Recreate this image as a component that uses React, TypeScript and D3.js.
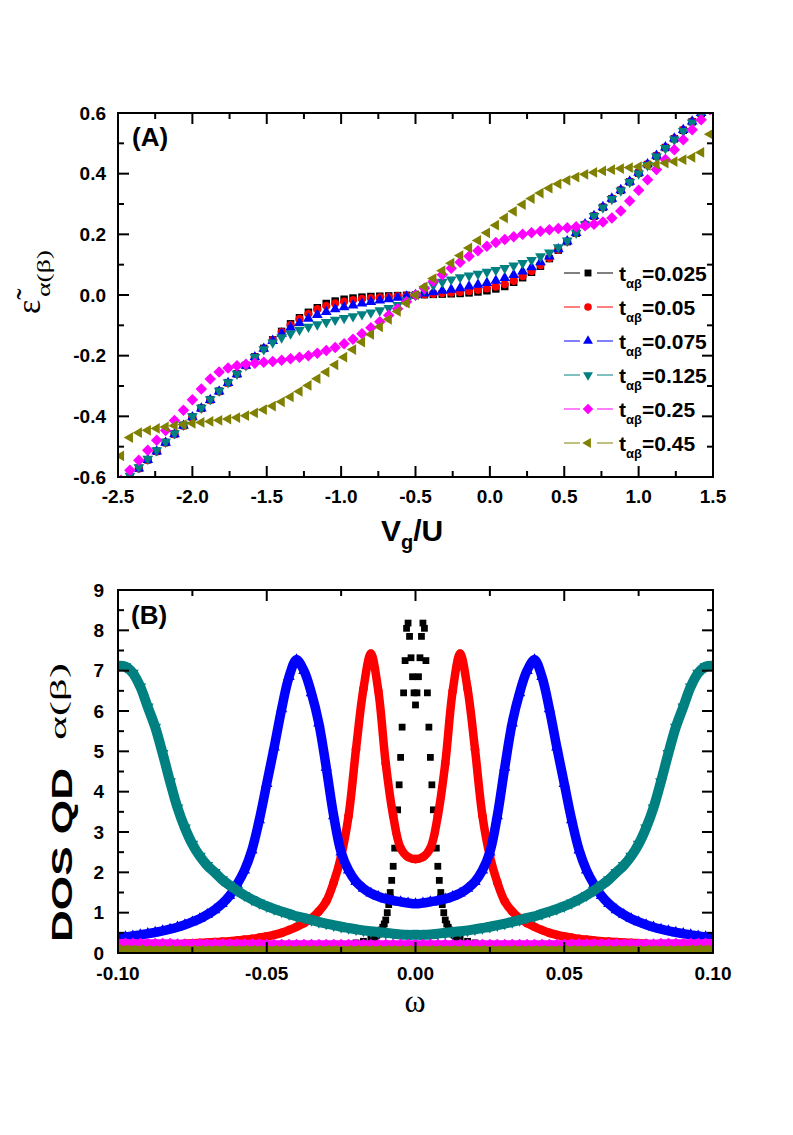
import React, { useEffect, useRef } from 'react';
import * as d3 from 'd3';

// ---- panel A : renormalised level vs gate voltage ----
const vg = [
  -2.48, -2.42, -2.36, -2.30, -2.24, -2.18, -2.12, -2.06, -2.00, -1.94,
  -1.88, -1.82, -1.76, -1.70, -1.64, -1.58, -1.52, -1.46, -1.40, -1.34,
  -1.28, -1.22, -1.16, -1.10, -1.04, -0.98, -0.92, -0.86, -0.80, -0.74,
  -0.68, -0.62, -0.56, -0.50, -0.44, -0.38, -0.32, -0.26, -0.20, -0.14,
  -0.08, -0.02, 0.04, 0.10, 0.16, 0.22, 0.28, 0.34, 0.40, 0.46,
  0.52, 0.58, 0.64, 0.70, 0.76, 0.82, 0.88, 0.94, 1.00, 1.06,
  1.12, 1.18, 1.24, 1.30, 1.36, 1.42, 1.48,
];

const epsT025 = [
  -0.627, -0.599, -0.571, -0.543, -0.515, -0.486, -0.458, -0.430, -0.402, -0.373,
  -0.345, -0.317, -0.289, -0.260, -0.232, -0.204, -0.176, -0.148, -0.120, -0.095,
  -0.075, -0.057, -0.042, -0.028, -0.020, -0.014, -0.010, -0.007, -0.005, -0.004,
  -0.003, -0.002, -0.001, 0, 0.001, 0.002, 0.003, 0.004, 0.005, 0.007,
  0.010, 0.014, 0.020, 0.028, 0.042, 0.057, 0.075, 0.095, 0.120, 0.148,
  0.176, 0.204, 0.232, 0.260, 0.289, 0.317, 0.345, 0.373, 0.402, 0.430,
  0.458, 0.486, 0.515, 0.543, 0.571, 0.599, 0.627,
];
const epsT05 = [
  -0.628, -0.600, -0.572, -0.544, -0.516, -0.487, -0.459, -0.431, -0.403, -0.374,
  -0.346, -0.318, -0.290, -0.261, -0.233, -0.205, -0.177, -0.149, -0.122, -0.099,
  -0.079, -0.062, -0.047, -0.036, -0.028, -0.022, -0.017, -0.013, -0.010, -0.008,
  -0.006, -0.004, -0.002, 0, 0.002, 0.004, 0.006, 0.008, 0.010, 0.013,
  0.017, 0.022, 0.028, 0.036, 0.047, 0.062, 0.079, 0.099, 0.122, 0.149,
  0.177, 0.205, 0.233, 0.261, 0.290, 0.318, 0.346, 0.374, 0.403, 0.431,
  0.459, 0.487, 0.516, 0.544, 0.572, 0.600, 0.628,
];
const epsT075 = [
  -0.628, -0.600, -0.572, -0.544, -0.516, -0.487, -0.459, -0.431, -0.403, -0.374,
  -0.346, -0.318, -0.290, -0.261, -0.233, -0.205, -0.177, -0.151, -0.127, -0.108,
  -0.092, -0.078, -0.066, -0.056, -0.047, -0.040, -0.034, -0.028, -0.023, -0.018,
  -0.014, -0.009, -0.005, 0, 0.005, 0.009, 0.014, 0.018, 0.023, 0.028,
  0.034, 0.040, 0.047, 0.056, 0.066, 0.078, 0.092, 0.108, 0.127, 0.151,
  0.177, 0.205, 0.233, 0.261, 0.290, 0.318, 0.346, 0.374, 0.403, 0.431,
  0.459, 0.487, 0.516, 0.544, 0.572, 0.600, 0.628,
];
const epsT125 = [
  -0.624, -0.596, -0.568, -0.540, -0.512, -0.484, -0.456, -0.428, -0.400, -0.372,
  -0.344, -0.316, -0.288, -0.260, -0.232, -0.205, -0.179, -0.157, -0.140, -0.127,
  -0.115, -0.105, -0.097, -0.089, -0.082, -0.076, -0.070, -0.064, -0.058, -0.051,
  -0.043, -0.033, -0.018, 0, 0.018, 0.033, 0.043, 0.051, 0.058, 0.064,
  0.070, 0.076, 0.082, 0.089, 0.097, 0.105, 0.115, 0.127, 0.140, 0.157,
  0.179, 0.205, 0.232, 0.260, 0.288, 0.316, 0.344, 0.372, 0.400, 0.428,
  0.456, 0.484, 0.512, 0.540, 0.568, 0.596, 0.624,
];
const epsT25 = [
  -0.611, -0.578, -0.545, -0.512, -0.479, -0.447, -0.414, -0.380, -0.345, -0.310,
  -0.277, -0.254, -0.241, -0.233, -0.228, -0.225, -0.222, -0.219, -0.215, -0.210,
  -0.205, -0.200, -0.192, -0.183, -0.173, -0.161, -0.146, -0.128, -0.108, -0.088,
  -0.067, -0.045, -0.022, 0, 0.022, 0.045, 0.067, 0.088, 0.108, 0.128,
  0.146, 0.161, 0.173, 0.183, 0.192, 0.200, 0.205, 0.210, 0.215, 0.219,
  0.222, 0.225, 0.228, 0.233, 0.241, 0.254, 0.277, 0.310, 0.345, 0.380,
  0.414, 0.447, 0.479, 0.512, 0.545, 0.578, 0.611,
];
const epsT45 = [
  -0.530, -0.470, -0.454, -0.446, -0.440, -0.435, -0.431, -0.427, -0.423, -0.420,
  -0.417, -0.413, -0.409, -0.404, -0.398, -0.389, -0.378, -0.366, -0.352, -0.336,
  -0.318, -0.298, -0.276, -0.254, -0.230, -0.205, -0.180, -0.155, -0.130, -0.105,
  -0.080, -0.054, -0.027, 0, 0.027, 0.054, 0.080, 0.105, 0.130, 0.155,
  0.180, 0.205, 0.230, 0.254, 0.276, 0.298, 0.318, 0.336, 0.352, 0.366,
  0.378, 0.389, 0.398, 0.404, 0.409, 0.413, 0.417, 0.420, 0.423, 0.427,
  0.431, 0.435, 0.440, 0.446, 0.454, 0.470, 0.530,
];

// ---- panel B : DOS of the dot vs omega ----
const omega = [
  -0.1, -0.0975, -0.095, -0.0925, -0.09, -0.0875, -0.085, -0.0825, -0.08, -0.0775,
  -0.075, -0.0725, -0.07, -0.0675, -0.065, -0.0625, -0.06, -0.0575, -0.055, -0.0525,
  -0.05, -0.0475, -0.045, -0.0425, -0.04, -0.0375, -0.035, -0.0325, -0.03, -0.0275,
  -0.025, -0.0225, -0.02, -0.0175, -0.015, -0.0125, -0.01, -0.0075, -0.005, -0.0025,
  0,
  0.0025, 0.005, 0.0075, 0.01, 0.0125, 0.015, 0.0175, 0.02, 0.0225, 0.025,
  0.0275, 0.03, 0.0325, 0.035, 0.0375, 0.04, 0.0425, 0.045, 0.0475, 0.05,
  0.0525, 0.055, 0.0575, 0.06, 0.0625, 0.065, 0.0675, 0.07, 0.0725, 0.075,
  0.0775, 0.08, 0.0825, 0.085, 0.0875, 0.09, 0.0925, 0.095, 0.0975, 0.1,
];
const dosT05 = [
  0.19, 0.19, 0.2, 0.2, 0.2, 0.21, 0.21, 0.22, 0.22, 0.23,
  0.24, 0.25, 0.26, 0.27, 0.28, 0.29, 0.31, 0.33, 0.35, 0.38,
  0.41, 0.45, 0.5, 0.57, 0.65, 0.74, 0.86, 1.03, 1.28, 1.75,
  2.4, 3.4, 5.05, 6.55, 7.42, 6.5, 4.7, 3.4, 2.6, 2.38,
  2.33,
  2.38, 2.6, 3.4, 4.7, 6.5, 7.42, 6.55, 5.05, 3.4, 2.4,
  1.75, 1.28, 1.03, 0.86, 0.74, 0.65, 0.57, 0.5, 0.45, 0.41,
  0.38, 0.35, 0.33, 0.31, 0.29, 0.28, 0.27, 0.26, 0.25, 0.24,
  0.23, 0.22, 0.22, 0.21, 0.21, 0.2, 0.2, 0.2, 0.19, 0.19,
];
const dosT075 = [
  0.38, 0.4, 0.42, 0.45, 0.48, 0.51, 0.55, 0.59, 0.64, 0.7,
  0.77, 0.85, 0.95, 1.07, 1.22, 1.42, 1.7, 2.05, 2.55, 3.3,
  4.2, 5.1, 6.05, 6.85, 7.27, 7.0, 6.45, 5.7, 4.6, 3.4,
  2.5, 2.05, 1.77, 1.6, 1.48, 1.4, 1.34, 1.3, 1.27, 1.24,
  1.22,
  1.24, 1.27, 1.3, 1.34, 1.4, 1.48, 1.6, 1.77, 2.05, 2.5,
  3.4, 4.6, 5.7, 6.45, 7.0, 7.27, 6.85, 6.05, 5.1, 4.2,
  3.3, 2.55, 2.05, 1.7, 1.42, 1.22, 1.07, 0.95, 0.85, 0.77,
  0.7, 0.64, 0.59, 0.55, 0.51, 0.48, 0.45, 0.42, 0.4, 0.38,
];
const dosT125 = [
  7.12, 7.1, 6.94, 6.6, 6.1, 5.6, 4.95, 4.25, 3.6, 3.1,
  2.7, 2.4, 2.17, 2.0, 1.82, 1.68, 1.55, 1.43, 1.33, 1.24,
  1.16, 1.09, 1.03, 0.97, 0.91, 0.87, 0.82, 0.77, 0.73, 0.69,
  0.65, 0.62, 0.59, 0.56, 0.54, 0.52, 0.5, 0.48, 0.46, 0.45,
  0.45,
  0.45, 0.46, 0.48, 0.5, 0.52, 0.54, 0.56, 0.59, 0.62, 0.65,
  0.69, 0.73, 0.77, 0.82, 0.87, 0.91, 0.97, 1.03, 1.09, 1.16,
  1.24, 1.33, 1.43, 1.55, 1.68, 1.82, 2.0, 2.17, 2.4, 2.7,
  3.1, 3.6, 4.25, 4.95, 5.6, 6.1, 6.6, 6.94, 7.1, 7.12,
];
const dosT25 = [
  0.25, 0.25, 0.24, 0.24, 0.24, 0.24, 0.24, 0.24, 0.23, 0.23,
  0.23, 0.23, 0.23, 0.23, 0.23, 0.23, 0.23, 0.23, 0.23, 0.23,
  0.22, 0.22, 0.22, 0.22, 0.22, 0.22, 0.22, 0.22, 0.22, 0.22,
  0.22, 0.22, 0.22, 0.22, 0.22, 0.22, 0.22, 0.22, 0.22, 0.22,
  0.22,
  0.22, 0.22, 0.22, 0.22, 0.22, 0.22, 0.22, 0.22, 0.22, 0.22,
  0.22, 0.22, 0.22, 0.22, 0.22, 0.22, 0.22, 0.22, 0.22, 0.22,
  0.23, 0.23, 0.23, 0.23, 0.23, 0.23, 0.23, 0.23, 0.23, 0.23,
  0.23, 0.23, 0.24, 0.24, 0.24, 0.24, 0.24, 0.24, 0.25, 0.25,
];
const dosT45 = [
  0.09, 0.09, 0.09, 0.09, 0.08, 0.08, 0.08, 0.08, 0.08, 0.08,
  0.08, 0.08, 0.08, 0.08, 0.08, 0.08, 0.08, 0.08, 0.08, 0.08,
  0.08, 0.08, 0.08, 0.08, 0.08, 0.08, 0.08, 0.08, 0.08, 0.08,
  0.08, 0.08, 0.08, 0.08, 0.08, 0.08, 0.08, 0.08, 0.08, 0.08,
  0.08,
  0.08, 0.08, 0.08, 0.08, 0.08, 0.08, 0.08, 0.08, 0.08, 0.08,
  0.08, 0.08, 0.08, 0.08, 0.08, 0.08, 0.08, 0.08, 0.08, 0.08,
  0.08, 0.08, 0.08, 0.08, 0.08, 0.08, 0.08, 0.08, 0.08, 0.08,
  0.08, 0.08, 0.08, 0.08, 0.08, 0.08, 0.09, 0.09, 0.09, 0.09,
];
// t=0.025 is sampled finer around its narrow double peak
const omegaT025 = [
  -0.1, -0.09, -0.08, -0.07, -0.06, -0.05, -0.04, -0.03, -0.025, -0.02, -0.0175,
  -0.015, -0.0145, -0.014, -0.0135, -0.013, -0.0125, -0.012, -0.0115, -0.011, -0.0105,
  -0.01, -0.0095, -0.009, -0.0085, -0.008, -0.0075, -0.007, -0.0065, -0.006, -0.0055,
  -0.005, -0.0045, -0.004, -0.0035, -0.003, -0.0025, -0.002, -0.0015, -0.001, -0.0005,
  0,
  0.0005, 0.001, 0.0015, 0.002, 0.0025, 0.003, 0.0035, 0.004, 0.0045, 0.005,
  0.0055, 0.006, 0.0065, 0.007, 0.0075, 0.008, 0.0085, 0.009, 0.0095, 0.01,
  0.0105, 0.011, 0.0115, 0.012, 0.0125, 0.013, 0.0135, 0.014, 0.0145, 0.015,
  0.0175, 0.02, 0.025, 0.03, 0.04, 0.05, 0.06, 0.07, 0.08, 0.09, 0.1,
];
const dosT025 = [
  0.09, 0.09, 0.1, 0.1, 0.11, 0.12, 0.14, 0.17, 0.2, 0.25, 0.29,
  0.34, 0.36, 0.38, 0.41, 0.44, 0.47, 0.52, 0.57, 0.64, 0.72,
  0.82, 1.0, 1.2, 1.5, 1.8, 2.15, 2.6, 3.0, 3.55, 4.17,
  4.85, 5.6, 6.45, 7.25, 8.05, 8.18, 7.85, 7.32, 6.85, 6.45,
  6.15,
  6.45, 6.85, 7.32, 7.85, 8.18, 8.05, 7.25, 6.45, 5.6, 4.85,
  4.17, 3.55, 3.0, 2.6, 2.15, 1.8, 1.5, 1.2, 1.0, 0.82,
  0.72, 0.64, 0.57, 0.52, 0.47, 0.44, 0.41, 0.38, 0.36, 0.34,
  0.29, 0.25, 0.2, 0.17, 0.14, 0.12, 0.11, 0.1, 0.1, 0.09, 0.09,
];

const tLabels = ['0.025', '0.05', '0.075', '0.125', '0.25', '0.45'];
const colors = ['#000000', '#ff0000', '#0000ff', '#008080', '#ff00ff', '#808000'];
const shapes = ['square', 'circle', 'up', 'down', 'diamond', 'left'];

const xTicksA = [-2.5, -2.0, -1.5, -1.0, -0.5, 0.0, 0.5, 1.0, 1.5];
const xTickLabelsA = ['-2.5', '-2.0', '-1.5', '-1.0', '-0.5', '0.0', '0.5', '1.0', '1.5'];
const yTicksA = [-0.6, -0.4, -0.2, 0.0, 0.2, 0.4, 0.6];
const yTickLabelsA = ['-0.6', '-0.4', '-0.2', '0.0', '0.2', '0.4', '0.6'];
const xTicksB = [-0.1, -0.05, 0, 0.05, 0.1];
const xTickLabelsB = ['-0.10', '-0.05', '0.00', '0.05', '0.10'];
const yTicksB = [0, 1, 2, 3, 4, 5, 6, 7, 8, 9];
const yTickLabelsB = ['0', '1', '2', '3', '4', '5', '6', '7', '8', '9'];

const sans = "'Liberation Sans', Arial, Helvetica, sans-serif";
const serif = "'Liberation Serif', 'Times New Roman', serif";

const markerPath = (shape: string, size: number) => {
  const type = shape === 'circle' ? d3.symbolCircle
    : (shape === 'square' || shape === 'diamond') ? d3.symbolSquare
    : d3.symbolTriangle;
  return d3.symbol().type(type).size(size)() as string;
};
const markerRot: Record<string, number> = { square: 0, circle: 0, up: 0, down: 180, diamond: 45, left: -90 };

const App = () => {
  const ref = useRef<SVGSVGElement>(null);

  useEffect(() => {
    const svg = d3.select(ref.current);
    svg.selectAll('*').remove();

    const xA = d3.scaleLinear().domain([-2.5, 1.5]).range([118, 713]);
    const yA = d3.scaleLinear().domain([-0.6, 0.6]).range([477, 113]);
    const xB = d3.scaleLinear().domain([-0.1, 0.1]).range([118, 713]);
    const yB = d3.scaleLinear().domain([0, 9]).range([953, 590]);

    const defs = svg.append('defs');
    defs.append('clipPath').attr('id', 'clipA').append('rect')
      .attr('x', 118).attr('y', 113).attr('width', 595).attr('height', 364);
    defs.append('clipPath').attr('id', 'clipB').append('rect')
      .attr('x', 118).attr('y', 590).attr('width', 595).attr('height', 363);

    const drawMarkers = (g: any, xs: number[], ys: number[], shape: string, color: string, size: number, x: any, y: any) => {
      const n = Math.min(xs.length, ys.length);
      const path = markerPath(shape, size);
      for (let i = 0; i < n; i++) {
        g.append('path')
          .attr('d', path)
          .attr('fill', color)
          .attr('transform', `translate(${x(xs[i])},${y(ys[i])}) rotate(${markerRot[shape]})`);
      }
    };

    // frame with inward ticks on all four sides
    const drawFrame = (x: any, y: any, xMajor: number[], xLabels: string[], xStep: number,
      yMajor: number[], yLabels: string[], yStep: number, xLabelBase: number, yLabelEnd: number) => {
      const g = svg.append('g');
      const [xl, xr] = x.range();
      const [yb, yt] = y.range();
      const isMaj = (arr: number[], v: number) => arr.some(m => Math.abs(m - v) < 1e-9);
      const [dx0, dx1] = x.domain();
      const [dy0, dy1] = y.domain();
      d3.range(dx0, dx1 + xStep / 2, xStep).forEach(v => {
        const len = isMaj(xMajor, v) ? 11 : 6;
        const px = x(v);
        g.append('line').attr('x1', px).attr('x2', px).attr('y1', yb).attr('y2', yb - len);
        g.append('line').attr('x1', px).attr('x2', px).attr('y1', yt).attr('y2', yt + len);
      });
      d3.range(dy0, dy1 + yStep / 2, yStep).forEach(v => {
        const len = isMaj(yMajor, v) ? 11 : 6;
        const py = y(v);
        g.append('line').attr('y1', py).attr('y2', py).attr('x1', xl).attr('x2', xl + len);
        g.append('line').attr('y1', py).attr('y2', py).attr('x1', xr).attr('x2', xr - len);
      });
      g.selectAll('line').attr('stroke', '#000').attr('stroke-width', 2);
      g.append('rect').attr('x', xl).attr('y', yt).attr('width', xr - xl).attr('height', yb - yt)
        .attr('fill', 'none').attr('stroke', '#000').attr('stroke-width', 2);
      xMajor.forEach((v, i) => {
        g.append('text').attr('x', x(v)).attr('y', xLabelBase).attr('text-anchor', 'middle')
          .attr('font-family', sans).attr('font-weight', 'bold').attr('font-size', 19).text(xLabels[i]);
      });
      yMajor.forEach((v, i) => {
        g.append('text').attr('x', yLabelEnd).attr('y', y(v) + 6.5).attr('text-anchor', 'end')
          .attr('font-family', sans).attr('font-weight', 'bold').attr('font-size', 19).text(yLabels[i]);
      });
    };

    // ---------- panel A ----------
    const gA = svg.append('g').attr('clip-path', 'url(#clipA)');
    const seriesA = [epsT025, epsT05, epsT075, epsT125, epsT25, epsT45];
    const sizeA = [56, 54, 50, 50, 66, 50];
    seriesA.forEach((s, k) => drawMarkers(gA, vg, s, shapes[k], colors[k], sizeA[k], xA, yA));

    drawFrame(xA, yA, xTicksA, xTickLabelsA, 0.25, yTicksA, yTickLabelsA, 0.1, 503, 106);

    svg.append('text').attr('x', 132).attr('y', 146).attr('font-family', sans)
      .attr('font-weight', 'bold').attr('font-size', 26).text('(A)');

    // legend
    const leg = svg.append('g');
    tLabels.forEach((lab, k) => {
      const ly = 273 + k * 34;
      leg.append('line').attr('x1', 564).attr('x2', 580).attr('y1', ly).attr('y2', ly)
        .attr('stroke', colors[k]).attr('stroke-width', 1);
      leg.append('line').attr('x1', 597).attr('x2', 613).attr('y1', ly).attr('y2', ly)
        .attr('stroke', colors[k]).attr('stroke-width', 1);
      leg.append('path').attr('d', markerPath(shapes[k], sizeA[k] * 0.85)).attr('fill', colors[k])
        .attr('transform', `translate(588,${ly}) rotate(${markerRot[shapes[k]]})`);
      const t = leg.append('text').attr('x', 619).attr('y', ly + 7.5).attr('font-family', sans)
        .attr('font-weight', 'bold').attr('font-size', 21);
      t.append('tspan').text('t');
      t.append('tspan').attr('font-size', 13).attr('dy', 7).text('αβ');
      t.append('tspan').attr('dy', -7).text('=' + lab);
    });

    // axis titles A
    const xt = svg.append('text').attr('x', 381).attr('y', 541).attr('font-family', sans)
      .attr('font-weight', 'bold').attr('font-size', 30);
    xt.append('tspan').text('V');
    xt.append('tspan').attr('font-size', 20).attr('dy', 8).text('g');
    xt.append('tspan').attr('dy', -8).text('/U');

    svg.append('text').attr('transform', 'translate(40,314) rotate(-90)')
      .attr('font-family', serif).attr('font-size', 34).text('ε\u0303');
    svg.append('text').attr('transform', 'translate(50,297) rotate(-90)')
      .attr('font-family', serif).attr('font-size', 18)
      .attr('textLength', 47).attr('lengthAdjust', 'spacingAndGlyphs').text('α(β)');

    // ---------- panel B ----------
    const gB = svg.append('g').attr('clip-path', 'url(#clipB)');
    drawMarkers(gB, omegaT025, dosT025, 'square', colors[0], 46, xB, yB);
    const seriesB = [dosT05, dosT075, dosT125, dosT25, dosT45];
    const widthB = [8.5, 9.5, 10, 8, 7];
    const sizeB = [60, 56, 60, 60, 44];
    const line = d3.line<number>()
      .x((d, i) => xB(omega[i]))
      .y(d => yB(d))
      .curve(d3.curveCatmullRom.alpha(0.5));
    seriesB.forEach((s, j) => {
      const k = j + 1;
      gB.append('path').attr('d', line(s) as string).attr('fill', 'none')
        .attr('stroke', colors[k]).attr('stroke-width', widthB[j]).attr('stroke-linejoin', 'round');
      drawMarkers(gB, omega, s, shapes[k], colors[k], sizeB[j], xB, yB);
    });

    drawFrame(xB, yB, xTicksB, xTickLabelsB, 0.025, yTicksB, yTickLabelsB, 0.5, 980, 104);

    svg.append('text').attr('x', 131).attr('y', 624).attr('font-family', sans)
      .attr('font-weight', 'bold').attr('font-size', 26).text('(B)');

    svg.append('text').attr('transform', 'translate(72,942) rotate(-90)')
      .attr('font-family', sans).attr('font-weight', 'bold').attr('font-size', 30)
      .attr('textLength', 174).attr('lengthAdjust', 'spacingAndGlyphs').text('DOS QD');
    svg.append('text').attr('transform', 'translate(66,740) rotate(-90)')
      .attr('font-family', serif).attr('font-size', 23)
      .attr('textLength', 77).attr('lengthAdjust', 'spacingAndGlyphs').text('α(β)');

    svg.append('text').attr('x', 415).attr('y', 1012).attr('text-anchor', 'middle')
      .attr('font-family', serif).attr('font-size', 32).text('ω');
  }, []);

  return (
    <svg ref={ref} width={793} height={1135}
      style={{ position: 'absolute', left: 0, top: 0, background: '#fff' }} />
  );
};

export default App;
